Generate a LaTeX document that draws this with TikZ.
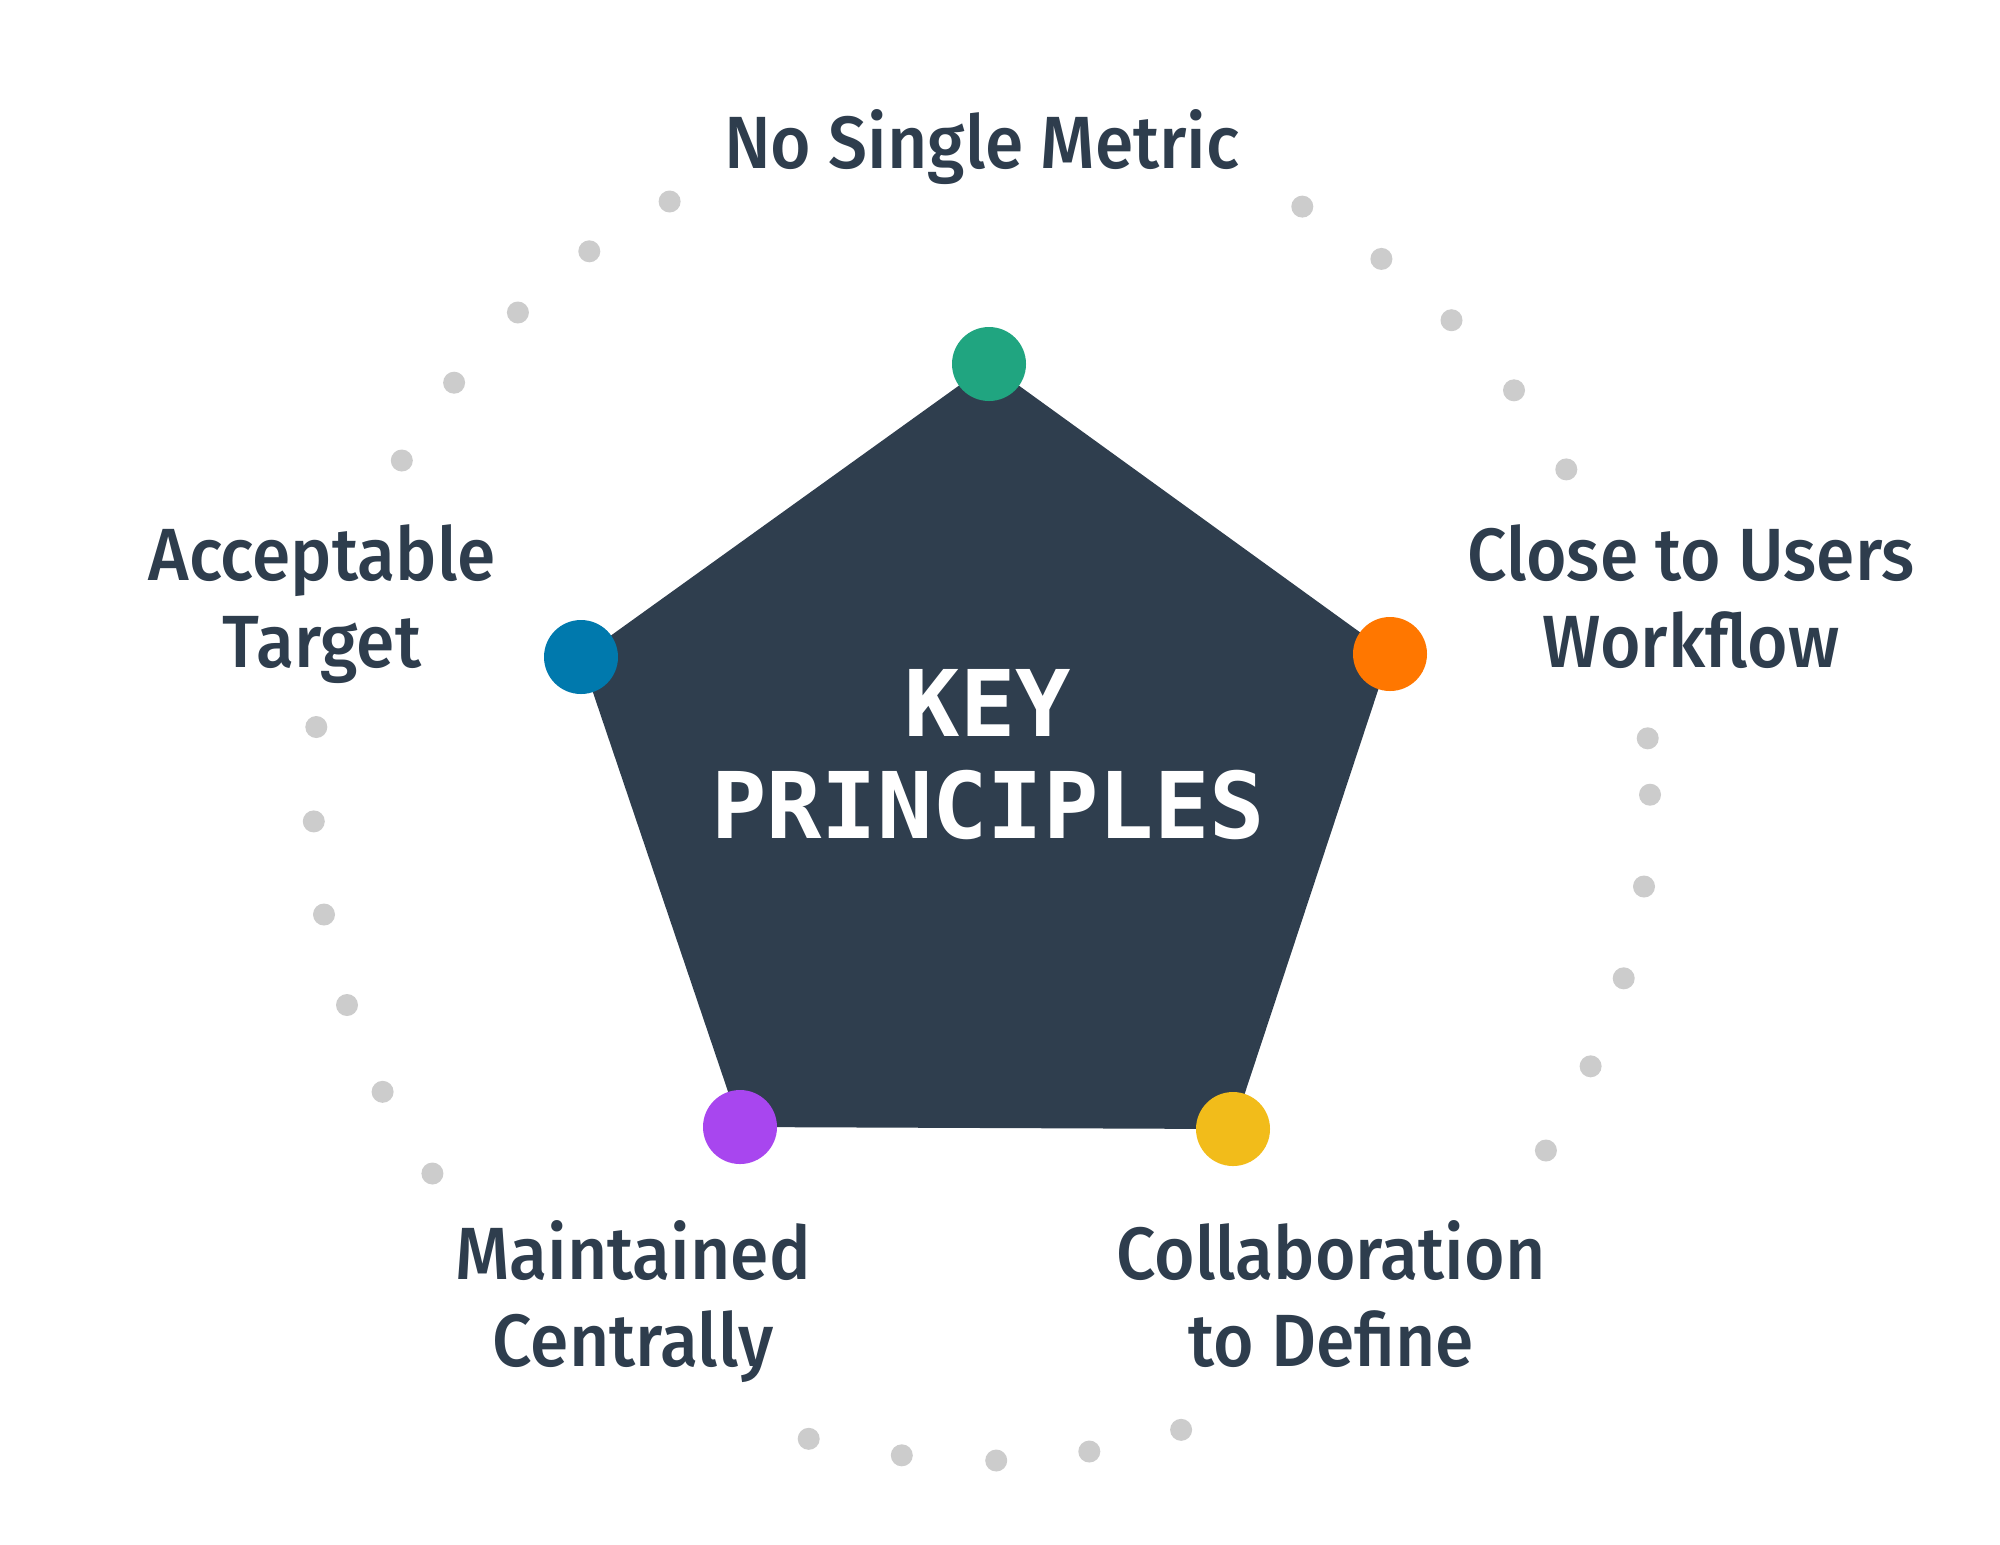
\documentclass[tikz,border=0pt]{standalone}
\usepackage{fontspec}
\setmainfont{Fira Sans}
\newfontfamily\labelfont{Fira Sans Medium}[FakeStretch=0.94]
\newfontfamily\titlefont{DejaVu Sans Mono}
\definecolor{slate}{HTML}{2F3E4E}
\definecolor{inkc}{HTML}{2E3D4D}
\definecolor{pgreen}{HTML}{20A580}
\definecolor{pblue}{HTML}{0079AD}
\definecolor{porange}{HTML}{FF7700}
\definecolor{pyellow}{HTML}{F2BC1A}
\definecolor{ppurple}{HTML}{A846EF}
\definecolor{trail}{HTML}{CCCCCC}
\tikzset{
  vdot/.style={circle, inner sep=0pt, minimum size=37pt},
  trailDot/.style={fill=trail},
  principle/.style={text=inkc, align=center, inner sep=0pt,
    font=\labelfont\fontsize{37}{43.5}\selectfont},
  heading/.style={text=white, align=center, inner sep=0pt,
    font=\titlefont\bfseries\fontsize{46}{51}\selectfont},
}
\begin{document}
\begin{tikzpicture}[x=0.5pt, y=-0.5pt]
\useasboundingbox[fill=white] (0,0) rectangle (2000,1544);

% dotted ring around the pentagon
\foreach \px/\py in {
  669.6/201.5, 589.3/251.3, 517.9/312.5, 454.1/382.7, 401.8/460.5,
  1302.3/206.6, 1381.4/258.9, 1451.5/320.2, 1514/390.3, 1566.3/469.4,
  1647.7/738.3, 1650/794.7, 1644/886.5, 1623.7/978.3, 1590.6/1066.3, 1545.9/1150.5,
  316.3/727, 313.8/821.4, 324/914.5, 347/1005, 382.6/1091.8, 432.4/1173.5,
  808.7/1438.8, 901.8/1455.3, 996.2/1460.5, 1089.3/1451.5, 1181.1/1429.8}
  \fill[trailDot] (\px,\py) circle[radius=5.5pt];

% pentagon corners
\coordinate (cTop) at (989,364);
\coordinate (cRight) at (1390,654);
\coordinate (cBR) at (1233,1129);
\coordinate (cBL) at (740,1127);
\coordinate (cLeft) at (581,657);

\fill[slate] (cTop) -- (cRight) -- (cBR) -- (cBL) -- (cLeft) -- cycle;

\node[vdot, fill=pgreen] (dTop) at (cTop) {};
\node[vdot, fill=porange] (dRight) at (cRight) {};
\node[vdot, fill=pyellow] (dBR) at (cBR) {};
\node[vdot, fill=ppurple] (dBL) at (cBL) {};
\node[vdot, fill=pblue] (dLeft) at (cLeft) {};

% multi-line nodes: base anchor sits on the last line
\node[heading, anchor=base] (title) at (988,838) {KEY\\PRINCIPLES};

\node[principle, anchor=base] (lTop) at (982,168) {No Single Metric};
\node[principle, anchor=base] (lRight) at (1691,667) {Close to Users\\Workflow};
\node[principle, anchor=base] (lLeft) at (322,667) {Acceptable\\Target};
\node[principle, anchor=base] (lBL) at (633,1366) {Maintained\\Centrally};
\node[principle, anchor=base] (lBR) at (1331,1366) {Collaboration\\to Define};
\end{tikzpicture}
\end{document}
